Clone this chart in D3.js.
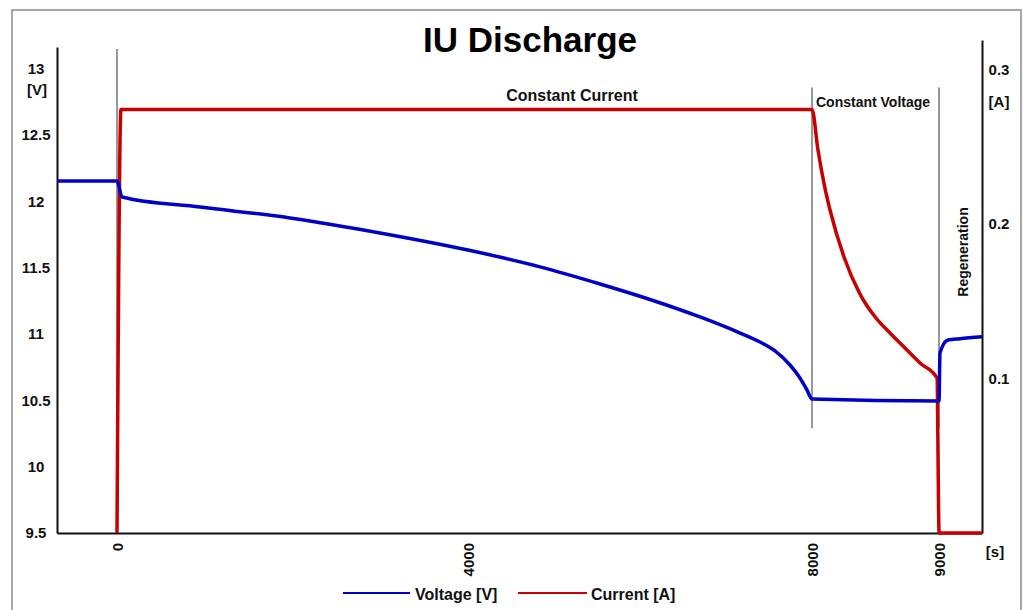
<!DOCTYPE html>
<html>
<head>
<meta charset="utf-8">
<script src="https://cdn.jsdelivr.net/npm/d3@7"></script>
<style>
  html, body { margin: 0; padding: 0; background: #fff; }
  svg { display: block; font-family: "Liberation Sans", Arial, sans-serif; }
</style>
</head>
<body>
<script>
// ---- data ----
const title = "IU Discharge";
const voltTime = [-684, 0, 57, 946, 1972, 2997, 4000, 4837, 5535, 6116, 6698, 7163, 7395, 7570, 7744, 7860, 7942, 8000, 9000, 9008, 9071, 9165, 9340];
const voltage  = [12.155, 12.155, 12.034, 11.958, 11.876, 11.763, 11.634, 11.507, 11.378, 11.261, 11.129, 11.008, 10.94, 10.873, 10.767, 10.669, 10.578, 10.511, 10.495, 10.86, 10.955, 10.965, 10.98];
const currTime = [0, 45, 8000, 8047, 8102, 8142, 8252, 8378, 8504, 8614, 8732, 8850, 8984, 9001, 9340];
const current  = [0, 0.274, 0.274, 0.2478, 0.2232, 0.209, 0.1786, 0.1546, 0.1391, 0.1294, 0.1197, 0.110, 0.1003, 0, 0];
const xTicks = [0, 4000, 8000, 9000];
const vTicks = [9.5, 10, 10.5, 11, 11.5, 12, 12.5, 13];
const aTicks = [0.1, 0.2, 0.3];
const phaseTimes = [0, 8000, 9000];
const phaseTop = [13.15, 12.86, 12.86];
const phaseBottom = [9.5, 10.29, 10.29];
const seriesNames = ["Voltage [V]", "Current [A]"];
const colors = ["#0000c8", "#c80000"];

// ---- layout ----
const W = 1025, H = 610;
const svg = d3.select("body").append("svg").attr("width", W).attr("height", H);

// frame
svg.append("rect").attr("x", 12).attr("y", 10).attr("width", 1009).attr("height", 620)
  .attr("fill", "none").attr("stroke", "#8a8a8a").attr("stroke-width", 1.5);

const x = d3.scaleLinear().domain([-684, 0, 4000, 8000, 9000, 9340]).range([57, 117, 468, 812, 939, 982]);
const yV = d3.scaleLinear().domain([9.5, 13.165]).range([533, 47]);
const yA = d3.scaleLinear().domain([0, 0.319]).range([533, 40]);

// title
svg.append("text").attr("x", 530).attr("y", 52).attr("text-anchor", "middle")
  .attr("font-size", 35).attr("font-weight", "bold").attr("fill", "#000").text(title);

// phase lines
svg.append("g").selectAll("line").data(phaseTimes).join("line")
  .attr("x1", d => x(d)).attr("x2", d => x(d))
  .attr("y1", (d, i) => yV(phaseTop[i])).attr("y2", (d, i) => yV(phaseBottom[i]))
  .attr("stroke", "#333").attr("stroke-width", 1);

// axes
const tickFont = sel => sel.attr("font-size", 15).attr("font-weight", "bold").attr("fill", "#111")
  .attr("font-family", "Liberation Sans, Arial, sans-serif");

const axL = svg.append("g").attr("transform", "translate(57,0)")
  .call(d3.axisLeft(yV).tickValues(vTicks).tickSize(0).tickSizeOuter(0).tickFormat(d3.format("~g")));
axL.select(".domain").attr("stroke", "#111").attr("stroke-width", 2);
axL.selectAll("text").attr("x", -21).attr("text-anchor", "middle").call(tickFont);

const axR = svg.append("g").attr("transform", "translate(982,0)")
  .call(d3.axisRight(yA).tickValues(aTicks).tickSize(0).tickSizeOuter(0).tickFormat(d3.format(".1f")));
axR.select(".domain").attr("stroke", "#111").attr("stroke-width", 2);
axR.selectAll("text").attr("x", 17).attr("text-anchor", "middle").call(tickFont);

const axB = svg.append("g").attr("transform", "translate(0,533)")
  .call(d3.axisBottom(x).tickValues(xTicks).tickSize(0).tickSizeOuter(0).tickFormat(d3.format("d")));
axB.select(".domain").attr("stroke", "#111").attr("stroke-width", 2);
axB.selectAll("text").attr("transform", "rotate(-90)").attr("x", -10).attr("y", 0).attr("dy", "0.35em")
  .attr("text-anchor", "end").call(tickFont);

// unit labels
const unit = (tx, ty, t) => svg.append("text").attr("x", tx).attr("y", ty).attr("dy", "0.35em")
  .attr("text-anchor", "middle").attr("font-size", 15).attr("font-weight", "bold").attr("fill", "#111").text(t);
unit(37, 90, "[V]");
unit(999, 102, "[A]");
unit(995, 552, "[s]");

// phase labels
svg.append("text").attr("x", 572).attr("y", 101).attr("text-anchor", "middle")
  .attr("font-size", 16).attr("font-weight", "bold").attr("fill", "#111").text("Constant Current");
svg.append("text").attr("x", 816).attr("y", 107).attr("text-anchor", "start")
  .attr("font-size", 14).attr("font-weight", "bold").attr("fill", "#111").text("Constant Voltage");
svg.append("text").attr("transform", "translate(968,252) rotate(-90)").attr("text-anchor", "middle")
  .attr("font-size", 14).attr("font-weight", "bold").attr("fill", "#111").text("Regeneration");

// series
const vData = voltTime.map((t, i) => [t, voltage[i]]);
const aData = currTime.map((t, i) => [t, current[i]]);
svg.append("path").datum(aData).attr("fill", "none").attr("stroke", colors[1]).attr("stroke-width", 3.5)
  .attr("d", d3.line().x(d => x(d[0])).y(d => yA(d[1])).curve(d3.curveMonotoneX));
svg.append("path").datum(vData).attr("fill", "none").attr("stroke", colors[0]).attr("stroke-width", 3.5)
  .attr("stroke-linejoin", "round")
  .attr("d", d3.line().x(d => x(d[0])).y(d => yV(d[1])).curve(d3.curveMonotoneX));

// legend
const leg = [{x1: 343, x2: 410, tx: 415}, {x1: 518, x2: 587, tx: 591}];
leg.forEach((l, i) => {
  svg.append("line").attr("x1", l.x1).attr("x2", l.x2).attr("y1", 593).attr("y2", 593)
    .attr("stroke", colors[i]).attr("stroke-width", 2);
  svg.append("text").attr("x", l.tx).attr("y", 594).attr("dy", "0.35em")
    .attr("font-size", 16).attr("font-weight", "bold").attr("fill", "#111").text(seriesNames[i]);
});
</script>
</body>
</html>
